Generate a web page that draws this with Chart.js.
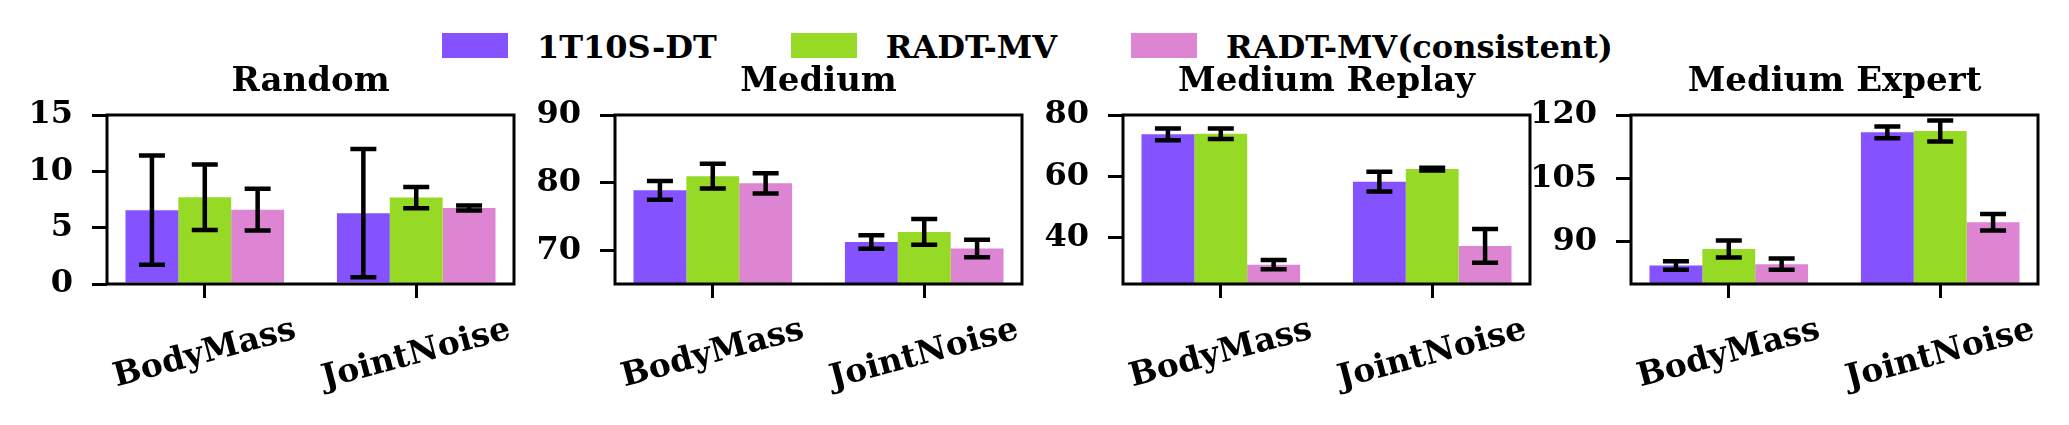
<!DOCTYPE html>
<html><head><meta charset="utf-8">
<script src="https://cdn.jsdelivr.net/npm/chart.js@4.4.1/dist/chart.umd.min.js"></script>
<style>
html,body{margin:0;padding:0;background:#fff;width:2069px;height:425px;overflow:hidden;position:relative;}
canvas{position:absolute;top:0;}
#legend{position:absolute;left:442px;top:0;height:90px;display:flex;align-items:flex-start;}
.item{display:flex;align-items:flex-start;margin-right:74px;}
.sw{width:66px;height:25px;margin-top:33px;margin-right:29px;}
.lt{font:bold 32px "DejaVu Serif";line-height:32px;margin-top:31px;white-space:nowrap;color:#000;}
</style></head><body>
<div id="legend"></div>
<script>
// ---- data ----
const categories = ['BodyMass', 'JointNoise'];
const panelTitles = ['Random', 'Medium', 'Medium Replay', 'Medium Expert'];
const seriesNames = ['1T10S-DT', 'RADT-MV', 'RADT-MV(consistent)'];
const seriesColors = ['#8453ff', '#96da25', '#dd85d2'];

// per panel: [BodyMass, JointNoise]
const dtMean  = [[6.55, 6.29], [78.85, 71.2], [73.7, 58.3], [84.4, 115.9]];
const dtErr   = [[4.85, 5.69], [1.37, 1.0],  [1.9, 3.2],   [1.0, 1.4]];
const mvMean  = [[7.7, 7.67],  [80.95, 72.7], [73.9, 62.4], [88.3, 116.2]];
const mvErr   = [[2.91, 0.94], [1.84, 1.9],  [1.7, 0.45],  [2.0, 2.5]];
const mvcMean = [[6.6, 6.75],  [79.9, 70.25], [31.3, 37.4], [84.7, 94.6]];
const mvcErr  = [[1.86, 0.22], [1.5, 1.3],   [1.5, 5.5],   [1.35, 1.95]];

const yMin = [0, 65, 25, 80];
const yMax = [15, 90, 80, 120];
const yTicks = [[0, 5, 10, 15], [70, 80, 90], [40, 60, 80], [90, 105, 120]];

// ---- layout ----
const FONT = 'DejaVu Serif';
const FS = 32, TFS = 34, XFS = 33;
Chart.defaults.font.family = FONT;
Chart.defaults.font.weight = 'bold';
Chart.defaults.font.size = FS;
Chart.defaults.color = '#000';

const boxLefts = [107, 615, 1123, 1631];
const AXW = 107, BOXW = 407, PADR = 20;

// legend
const leg = document.getElementById('legend');
seriesNames.forEach((n, i) => {
  const it = document.createElement('div'); it.className = 'item';
  const sw = document.createElement('div'); sw.className = 'sw'; sw.style.background = seriesColors[i];
  const t = document.createElement('div'); t.className = 'lt'; t.textContent = n;
  it.appendChild(sw); it.appendChild(t); leg.appendChild(it);
});

const decor = {
  id: 'decor',
  afterDatasetsDraw(chart) {
    const ctx = chart.ctx, ys = chart.scales.y, xs = chart.scales.x, a = chart.chartArea;
    // error bars
    chart.data.datasets.forEach((ds, di) => {
      const meta = chart.getDatasetMeta(di);
      meta.data.forEach((bar, i) => {
        const v = ds.data[i].y, e = ds.errors[i];
        const yt = ys.getPixelForValue(v + e), yb = ys.getPixelForValue(v - e);
        ctx.save();
        ctx.strokeStyle = '#000'; ctx.lineWidth = 4.5;
        ctx.beginPath();
        ctx.moveTo(bar.x, yt); ctx.lineTo(bar.x, yb);
        ctx.moveTo(bar.x - 13, yt); ctx.lineTo(bar.x + 13, yt);
        ctx.moveTo(bar.x - 13, yb); ctx.lineTo(bar.x + 13, yb);
        ctx.stroke();
        ctx.restore();
      });
    });
    // frame
    ctx.save();
    ctx.strokeStyle = '#000'; ctx.lineWidth = 3;
    ctx.strokeRect(a.left, a.top, a.right - a.left, a.bottom - a.top);
    // title
    ctx.font = `bold ${TFS}px "${FONT}"`;
    ctx.fillStyle = '#000';
    ctx.textAlign = 'center'; ctx.textBaseline = 'alphabetic';
    ctx.fillText(chart.options.plugins.decor.title, (a.left + a.right) / 2, 91);
    // rotated x labels, centered on ticks
    ctx.font = `bold ${XFS}px "${FONT}"`;
    const rot = 15 * Math.PI / 180, h = XFS * 1.17, yTop = 311;
    categories.forEach((c, i) => {
      const px = xs.getPixelForValue(i);
      const L = ctx.measureText(c).width;
      const cy = yTop + (L * Math.sin(rot) + h * Math.cos(rot)) / 2;
      ctx.save();
      ctx.translate(px, cy);
      ctx.rotate(-rot);
      ctx.textAlign = 'center'; ctx.textBaseline = 'middle';
      ctx.fillText(c, 0, 0);
      ctx.restore();
    });
    ctx.restore();
  }
};

const means = [dtMean, mvMean, mvcMean];
const errs = [dtErr, mvErr, mvcErr];

panelTitles.forEach((title, p) => {
  const cv = document.createElement('canvas');
  const W = AXW + BOXW + PADR, H = 425;
  cv.width = W; cv.height = H;
  cv.style.width = W + 'px'; cv.style.height = H + 'px';
  cv.style.left = (boxLefts[p] - AXW) + 'px';
  document.body.appendChild(cv);
  new Chart(cv, {
    type: 'bar',
    data: {
      datasets: seriesNames.map((n, s) => ({
        label: n,
        data: categories.map((c, i) => ({ x: i, y: means[s][p][i] })),
        errors: errs[s][p],
        backgroundColor: seriesColors[s],
        borderWidth: 0,
        categoryPercentage: 0.75,
        barPercentage: 1.0
      }))
    },
    options: {
      responsive: false,
      animation: false,
      layout: { padding: { top: 115, bottom: 127, left: 0, right: PADR } },
      plugins: { legend: { display: false }, tooltip: { enabled: false }, title: { display: false },
                 decor: { title } },
      scales: {
        x: {
          type: 'linear', min: -0.4625, max: 1.4625, offset: false,
          afterBuildTicks: s => { s.ticks = categories.map((c, i) => ({ value: i })); },
          afterFit: s => { s.height = 14; },
          ticks: { display: false },
          grid: { drawOnChartArea: false, drawTicks: true, tickLength: 14, lineWidth: 3, color: '#000', offset: false },
          border: { display: false }
        },
        y: {
          min: yMin[p], max: yMax[p],
          afterBuildTicks: s => { s.ticks = yTicks[p].map(v => ({ value: v })); },
          afterFit: s => { s.width = AXW; },
          ticks: { padding: 19, color: '#000', font: { size: FS, weight: 'bold', family: FONT } },
          grid: { drawOnChartArea: false, drawTicks: true, tickLength: 15, lineWidth: 3, color: '#000' },
          border: { display: false }
        }
      }
    },
    plugins: [decor]
  });
});
</script>
</body></html>
